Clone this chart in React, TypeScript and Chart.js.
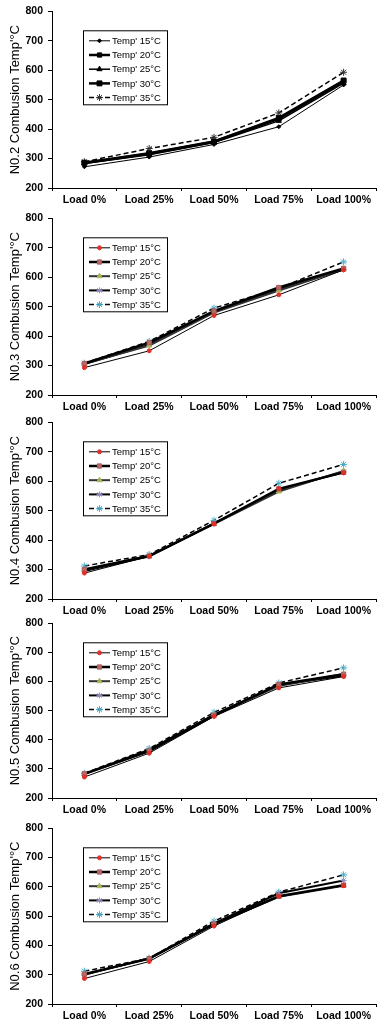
import React, { useEffect, useRef } from 'react';
import { Chart, registerables } from 'chart.js';
import { drawPoint } from 'chart.js/helpers';

Chart.register(...registerables);

const categories = ['Load 0%', 'Load 25%', 'Load 50%', 'Load 75%', 'Load 100%'];
const seriesLabels = ["Temp' 15°C", "Temp' 20°C", "Temp' 25°C", "Temp' 30°C", "Temp' 35°C"];
const yAxisTitles = [
  "N0.2 Combusion Temp'°C",
  "N0.3 Combusion Temp'°C",
  "N0.4 Combusion Temp'°C",
  "N0.5 Combusion Temp'°C",
  "N0.6 Combusion Temp'°C",
];
const yTickValues = [200, 300, 400, 500, 600, 700, 800];

// NO.2
const no2Temp15 = [272, 305, 348, 408, 550];
const no2Temp20 = [285, 316, 357, 435, 562];
const no2Temp25 = [283, 313, 354, 428, 556];
const no2Temp30 = [286, 318, 358, 438, 565];
const no2Temp35 = [289, 334, 372, 455, 593];
// NO.3
const no3Temp15 = [293, 350, 470, 540, 625];
const no3Temp20 = [307, 378, 485, 565, 630];
const no3Temp25 = [306, 368, 480, 555, 627];
const no3Temp30 = [305, 370, 482, 558, 626];
const no3Temp35 = [308, 382, 495, 562, 652];
// NO.4
const no4Temp15 = [288, 345, 455, 575, 628];
const no4Temp20 = [300, 346, 456, 574, 630];
const no4Temp25 = [298, 347, 455, 565, 635];
const no4Temp30 = [295, 345, 457, 570, 632];
const no4Temp35 = [312, 351, 467, 593, 657];
// NO.5
const no5Temp15 = [272, 354, 480, 578, 617];
const no5Temp20 = [283, 362, 484, 590, 625];
const no5Temp25 = [282, 360, 483, 585, 626];
const no5Temp30 = [283, 366, 486, 588, 620];
const no5Temp35 = [285, 370, 494, 595, 647];
// NO.6
const no6Temp15 = [287, 345, 466, 568, 604];
const no6Temp20 = [302, 355, 473, 568, 606];
const no6Temp25 = [302, 355, 472, 566, 604];
const no6Temp30 = [300, 356, 475, 578, 622];
const no6Temp35 = [312, 356, 483, 582, 641];

const panels = [
  [no2Temp15, no2Temp20, no2Temp25, no2Temp30, no2Temp35],
  [no3Temp15, no3Temp20, no3Temp25, no3Temp30, no3Temp35],
  [no4Temp15, no4Temp20, no4Temp25, no4Temp30, no4Temp35],
  [no5Temp15, no5Temp20, no5Temp25, no5Temp30, no5Temp35],
  [no6Temp15, no6Temp20, no6Temp25, no6Temp30, no6Temp35],
];

const FONT = '"Liberation Sans", Arial, sans-serif';

type SeriesStyle = {
  line: string;
  width: number;
  dash: number[];
  point: string;
  radius: number;
  fill: string;
  stroke: string;
  pw: number;
};

const monoStyles: SeriesStyle[] = [
  { line: '#000', width: 1, dash: [], point: 'rectRot', radius: 2, fill: '#000', stroke: '#000', pw: 1 },
  { line: '#000', width: 2.5, dash: [], point: 'rect', radius: 3, fill: '#000', stroke: '#000', pw: 1 },
  { line: '#000', width: 1.5, dash: [], point: 'triangle', radius: 3, fill: '#000', stroke: '#000', pw: 1 },
  { line: '#000', width: 2.5, dash: [], point: 'rect', radius: 3.5, fill: '#000', stroke: '#000', pw: 1 },
  { line: '#000', width: 1.5, dash: [5, 3], point: 'star', radius: 3.5, fill: '#000', stroke: '#333', pw: 1 },
];

const colorStyles: SeriesStyle[] = [
  { line: '#000', width: 1, dash: [], point: 'circle', radius: 2, fill: '#e0302a', stroke: '#e0302a', pw: 1 },
  { line: '#000', width: 2.5, dash: [], point: 'rect', radius: 3, fill: '#b86a66', stroke: '#a85a56', pw: 1 },
  { line: '#333', width: 2, dash: [], point: 'triangle', radius: 3, fill: '#a9b45a', stroke: '#a9b45a', pw: 1 },
  { line: '#000', width: 2, dash: [], point: 'star', radius: 3, fill: '#9090c8', stroke: '#9090c8', pw: 1 },
  { line: '#000', width: 1.5, dash: [5, 3], point: 'star', radius: 3.5, fill: '#4bacc6', stroke: '#4bacc6', pw: 1 },
];

// plot area top/bottom in page pixels
const plotBoxes = [
  { top: 9, bottom: 188 },
  { top: 216, bottom: 395 },
  { top: 420, bottom: 599 },
  { top: 621, bottom: 798 },
  { top: 826, bottom: 1004 },
];
const PAD_TOP = 9;
const X_AXIS_H = 17;
const PAD_BOTTOM = 2;

const boxLegend = {
  id: 'boxLegend',
  afterDatasetsDraw(chart: any) {
    const { ctx, chartArea } = chart;
    const x0 = chartArea.left + 31;
    const y0 = chartArea.top + 19;
    const w = 84;
    const h = 74;
    ctx.save();
    ctx.fillStyle = '#fff';
    ctx.fillRect(x0, y0, w, h);
    ctx.strokeStyle = '#000';
    ctx.lineWidth = 1;
    ctx.setLineDash([]);
    ctx.strokeRect(x0 + 0.5, y0 + 0.5, w, h);
    chart.data.datasets.forEach((ds: any, i: number) => {
      const y = y0 + 10.5 + i * 14.2;
      ctx.save();
      ctx.strokeStyle = ds.borderColor;
      ctx.lineWidth = ds.borderWidth;
      ctx.setLineDash(ds.borderDash || []);
      ctx.beginPath();
      ctx.moveTo(x0 + 6, y);
      ctx.lineTo(x0 + 27, y);
      ctx.stroke();
      ctx.setLineDash([]);
      ctx.fillStyle = ds.pointBackgroundColor;
      ctx.strokeStyle = ds.pointBorderColor;
      ctx.lineWidth = ds.pointBorderWidth;
      drawPoint(ctx, { pointStyle: ds.pointStyle, radius: ds.pointRadius, rotation: 0, borderWidth: ds.pointBorderWidth }, x0 + 16.5, y);
      ctx.restore();
      ctx.fillStyle = '#000';
      ctx.font = `9.5px ${FONT}`;
      ctx.textBaseline = 'middle';
      ctx.textAlign = 'left';
      ctx.fillText(ds.label, x0 + 29, y + 0.5);
    });
    ctx.restore();
  },
};

function Panel({ index }: { index: number }) {
  const ref = useRef<HTMLCanvasElement | null>(null);
  useEffect(() => {
    if (!ref.current) return;
    const styles = index === 0 ? monoStyles : colorStyles;
    const datasets = panels[index].map((values, i) => {
      const s = styles[i];
      return {
        label: seriesLabels[i],
        data: values,
        borderColor: s.line,
        borderWidth: s.width,
        borderDash: s.dash,
        pointStyle: s.point,
        pointRadius: s.radius,
        pointBackgroundColor: s.fill,
        pointBorderColor: s.stroke,
        pointBorderWidth: s.pw,
        tension: 0,
        fill: false,
      };
    });
    const chart = new Chart(ref.current, {
      type: 'line',
      data: { labels: categories, datasets },
      options: {
        responsive: true,
        maintainAspectRatio: false,
        animation: false,
        layout: { padding: { top: PAD_TOP, left: 0, right: 8, bottom: PAD_BOTTOM } },
        plugins: { legend: { display: false }, tooltip: { enabled: false } },
        scales: {
          x: {
            type: 'category',
            offset: true,
            grid: { display: true, drawOnChartArea: false, drawTicks: true, tickLength: 3, offset: true, color: '#000' },
            border: { color: '#000', width: 1 },
            ticks: { color: '#000', font: { family: FONT, size: 10.5, weight: 'bold' }, padding: 3, maxRotation: 0, autoSkip: false },
            afterFit: (s: any) => { s.height = X_AXIS_H; },
          },
          y: {
            min: yTickValues[0],
            max: yTickValues[yTickValues.length - 1],
            afterBuildTicks: (s: any) => { s.ticks = yTickValues.map((v) => ({ value: v })); },
            ticks: { color: '#000', font: { family: FONT, size: 10.5, weight: 'bold' }, padding: 5 },
            grid: { display: true, drawOnChartArea: false, drawTicks: true, tickLength: 4, color: '#000' },
            border: { color: '#000', width: 1 },
            title: { display: true, text: yAxisTitles[index], color: '#000', font: { family: FONT, size: 13 }, padding: { top: 8, bottom: 0 } },
            afterFit: (s: any) => { s.width = 52; },
          },
        },
      },
      plugins: [boxLegend],
    } as any);
    return () => chart.destroy();
  }, [index]);
  const pb = plotBoxes[index];
  const top = pb.top - PAD_TOP;
  const height = pb.bottom - pb.top + PAD_TOP + X_AXIS_H + PAD_BOTTOM;
  return (
    <div style={{ position: 'absolute', left: 0, top, width: 384, height }}>
      <canvas ref={ref} />
    </div>
  );
}

export default function App() {
  return (
    <div style={{ position: 'absolute', left: 0, top: 0, width: 384, height: 1025, background: '#fff' }}>
      {panels.map((_, i) => (
        <Panel key={i} index={i} />
      ))}
    </div>
  );
}
